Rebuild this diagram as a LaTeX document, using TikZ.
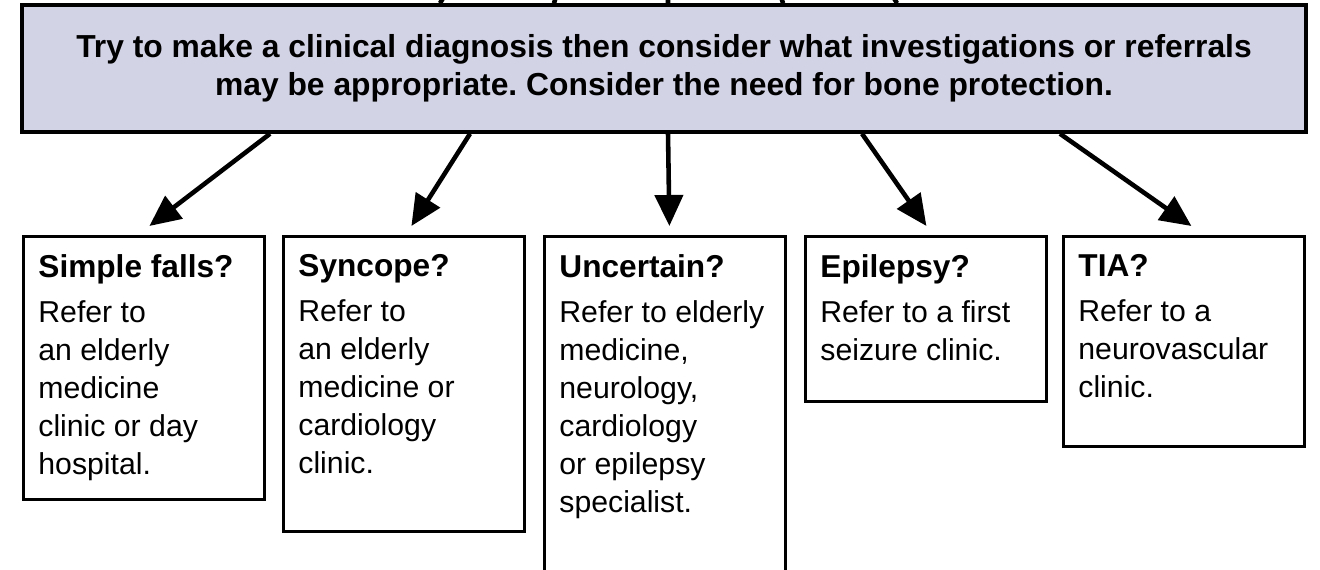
\documentclass[tikz,border=0pt]{standalone}
\usepackage{fontspec}
\setmainfont{Liberation Sans}
\usetikzlibrary{arrows.meta,calc}

\definecolor{diagfill}{RGB}{211,211,230}
\frenchspacing

% text of a card, pinned to the top
\newcommand{\cardtext}[2]{\parbox[t][#1][t]{2.11cm}{\raggedright #2}}
% bold heading of a card
\newcommand{\cardhead}[1]{{\fontsize{9pt}{10.8pt}\selectfont\bfseries #1}}

\begin{document}
\begin{tikzpicture}[x=1cm,y=1cm,
  card/.style={draw,line width=0.8pt,anchor=north west,inner xsep=0.15cm,inner ysep=0.18cm,
    font=\fontsize{8.6pt}{10.8pt}\selectfont},
  pointer/.style={line width=1.3pt,-{Triangle[length=0.31cm,width=0.28cm]}}]

% page frame
\useasboundingbox (0,0) rectangle (13.2,-5.7);

% main box
\node[draw,fill=diagfill,line width=1pt,minimum width=12.84cm,minimum height=1.27cm,
  inner sep=0,align=center,font=\fontsize{9.05pt}{10.8pt}\selectfont\bfseries] (diag) at (6.64,-0.685)
  {Try to make a clinical diagnosis then consider what investigations or referrals\\
   may be appropriate. Consider the need for bone protection.};

% lines coming in from above
\coordinate (src) at (6.68,3.75);
\draw[line width=1.3pt] (src) -- ($(diag.north)+(-2.24,0)$);
\draw[line width=1.3pt] (src) -- ($(diag.north)+(-1.10,0)$);
\draw[line width=1.3pt] (src) -- ($(diag.north)+(0.04,0)$);
\draw[line width=1.3pt] (src) -- ($(diag.north)+(1.19,0)$);
\draw[line width=1.3pt] (src) -- ($(diag.north)+(2.33,0)$);

% the five cards
\node[card] (sfalls) at (0.22,-2.35) {\cardtext{2.27cm}{\cardhead{Simple falls?}\\[2pt]
  Refer to\\ an elderly\\ medicine\\ clinic or day\\ hospital.}};
\node[card] (syncope) at (2.82,-2.35) {\cardtext{2.59cm}{\cardhead{Syncope?}\\[2pt]
  Refer to\\ an elderly\\ medicine or\\ cardiology\\ clinic.}};
\node[card] (uncertain) at (5.43,-2.35) {\cardtext{3.4cm}{\cardhead{Uncertain?}\\[2pt]
  Refer to elderly\\ medicine,\\ neurology,\\ cardiology\\ or epilepsy\\ specialist.}};
\node[card] (epilepsy) at (8.04,-2.35) {\cardtext{1.29cm}{\cardhead{Epilepsy?}\\[2pt]
  Refer to a first\\ seizure clinic.}};
\node[card] (tia) at (10.62,-2.35) {\cardtext{1.74cm}{\cardhead{TIA?}\\[2pt]
  Refer to a\\ neurovascular\\ clinic.}};

% arrows down to the cards
\draw[pointer] ($(diag.south)+(-3.94,0)$) -- ($(sfalls.north)+(0.055,0.09)$);
\draw[pointer] ($(diag.south)+(-1.94,0)$) -- ($(syncope.north)+(0.075,0.09)$);
\draw[pointer] ($(diag.south)+(0.04,0)$) -- ($(uncertain.north)+(0.045,0.09)$);
\draw[pointer] ($(diag.south)+(1.98,0)$) -- ($(epilepsy.north)+(0.005,0.09)$);
\draw[pointer] ($(diag.south)+(3.96,0)$) -- ($(tia.north)+(0.075,0.09)$);

\end{tikzpicture}
\end{document}
